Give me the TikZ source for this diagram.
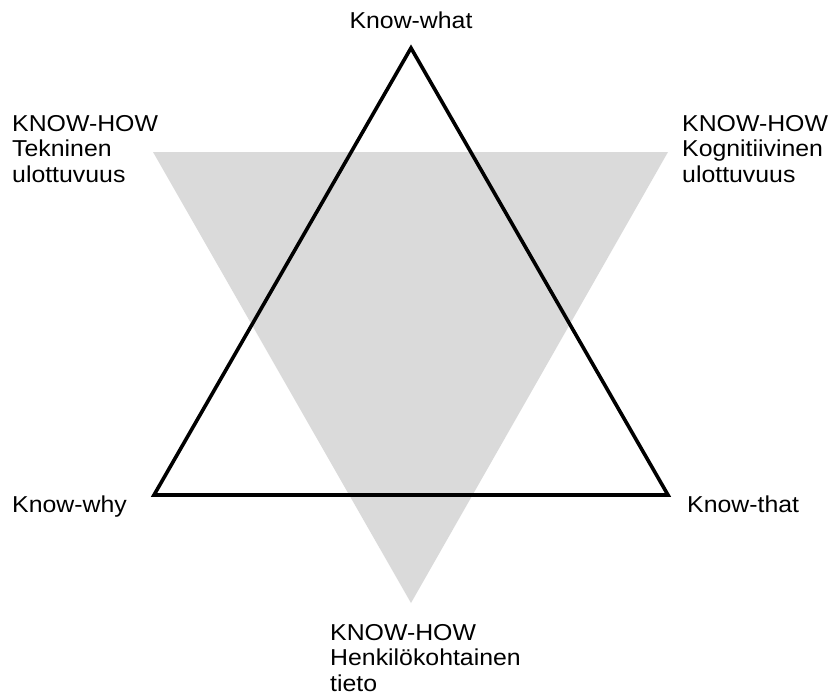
\documentclass[tikz,border=0pt]{standalone}
\usepackage{fontspec}
\setmainfont{Liberation Sans}[FakeStretch=1.08]
\definecolor{shade}{RGB}{218,218,218}
\begin{document}
\begin{tikzpicture}[x=1pt,y=-1pt]
\tikzset{
  lbl/.style={font=\fontsize{23}{25.5}\selectfont, inner sep=0pt, align=left, anchor=base west},
  tri/.style={draw=black, line width=3.6pt, line join=miter},
  shadetri/.style={fill=shade, draw=none}
}
\useasboundingbox (0,0) rectangle (830,697);
% grey inverted triangle
\coordinate (gA) at (153,152);
\coordinate (gB) at (668,152);
\coordinate (gC) at (411,603);
\path[shadetri] (gA) -- (gB) -- (gC) -- cycle;
% black triangle
\coordinate (tA) at (411,48);
\coordinate (tB) at (154,495);
\coordinate (tC) at (668,495);
\draw[tri] (tA) -- (tB) -- (tC) -- cycle;
% labels (multi-line nodes are anchored at the baseline of their last line)
\node[lbl, anchor=base] (kwhat) at (411,28) {Know-what};
\node[lbl] (kleft) at (12,182) {KNOW-HOW\\Tekninen\\ulottuvuus};
\node[lbl] (kright) at (682,182) {KNOW-HOW\\Kognitiivinen\\ulottuvuus};
\node[lbl] (kwhy) at (12,512) {Know-why};
\node[lbl] (kthat) at (687,512) {Know-that};
\node[lbl] (kbottom) at (330,691) {KNOW-HOW\\Henkilökohtainen\\tieto};
\end{tikzpicture}
\end{document}
